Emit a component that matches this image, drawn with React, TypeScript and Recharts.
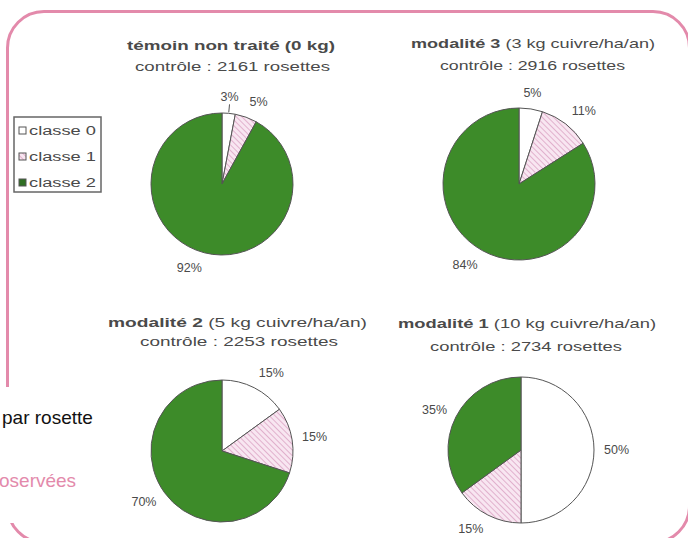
import React from 'react';
import { PieChart, Pie, Cell, Legend } from 'recharts';

// ---------- data ----------
const classNames = ['classe 0', 'classe 1', 'classe 2'];
const temoinValues = [3, 5, 92];
const modalite3Values = [5, 11, 84];
const modalite2Values = [15, 15, 70];
const modalite1Values = [50, 15, 35];
const titleBold = ['témoin non traité (0 kg)', 'modalité 3', 'modalité 2', 'modalité 1'];
const titleRest = ['', ' (3 kg cuivre/ha/an)', ' (5 kg cuivre/ha/an)', ' (10 kg cuivre/ha/an)'];
const rosettes = [2161, 2916, 2253, 2734];
const sideTexts = ['par rosette', 'oservées'];

// ---------- style / layout ----------
const W = 688;
const H = 538;
const GREEN = '#3d8b29';
const PINK = '#e38aab';
const TEXT = '#4a4a4a';
const FONT = '"Liberation Sans", Arial, sans-serif';
const fills = ['#ffffff', 'url(#hatch)', GREEN];

const pieSeries = [temoinValues, modalite3Values, modalite2Values, modalite1Values];
const pieLayout = [
  { cx: 222, cy: 184, r: 71 },
  { cx: 519, cy: 184, r: 76 },
  { cx: 222, cy: 451, r: 71 },
  { cx: 521, cy: 450, r: 73 },
];
// title boxes: [left, right, baselineTitle, leftSub, rightSub, baselineSub]
const titleLayout = [
  [127, 335, 50, 135, 330, 71],
  [411, 655, 48, 440, 625, 70],
  [108, 367, 327, 140, 338, 346],
  [398, 656, 328, 430, 622, 351],
];

const makeData = (values: number[]) => values.map((v, i) => ({ name: classNames[i], value: v }));

const RAD = Math.PI / 180;

const renderLabel = (props: any) => {
  const { cx, cy, midAngle, outerRadius, value } = props;
  const cos = Math.cos(midAngle * RAD);
  const sin = Math.sin(midAngle * RAD);
  const d = outerRadius + 10;
  const x = cx + d * cos;
  const y = cy - d * sin - sin * 6;
  const anchor = cos > 0.2 ? 'start' : cos < -0.2 ? 'end' : 'middle';
  return (
    <text
      x={x}
      y={y}
      textAnchor={anchor}
      dominantBaseline="central"
      fontFamily={FONT}
      fontSize={12.5}
      fill={TEXT}
    >
      {`${value}%`}
    </text>
  );
};

const makeLabelLine = (pieIndex: number) => (props: any) => {
  const { cx, cy, midAngle, outerRadius, index } = props;
  if (!(pieIndex === 0 && index === 0)) return <g />;
  const cos = Math.cos(midAngle * RAD);
  const sin = Math.sin(midAngle * RAD);
  const x1 = cx + (outerRadius + 1) * cos;
  const y1 = cy - (outerRadius + 1) * sin;
  const x2 = cx + (outerRadius + 9) * cos;
  const y2 = cy - (outerRadius + 9) * sin;
  return <path d={`M${x1},${y1}L${x2},${y2}`} stroke="#555" strokeWidth={1} fill="none" />;
};

const LegendBox = () => (
  <svg width={90} height={78} style={{ display: 'block' }}>
    <rect x={1} y={1} width={87} height={75} fill="#fff" stroke="#666" strokeWidth={1.5} />
    {classNames.map((c, i) => (
      <g key={c}>
        <rect
          x={6}
          y={11 + i * 26}
          width={7}
          height={7}
          fill={i === 2 ? '#2f6e22' : i === 1 ? 'url(#hatch)' : '#fff'}
          stroke="#555"
          strokeWidth={1}
        />
        <text
          x={16}
          y={19 + i * 26}
          fontFamily={FONT}
          fontSize={12.5}
          fill={TEXT}
          textLength={67}
          lengthAdjust="spacingAndGlyphs"
        >
          {c}
        </text>
      </g>
    ))}
  </svg>
);

export default function App() {
  return (
    <div
      style={{
        position: 'absolute',
        left: 0,
        top: 0,
        width: W,
        height: H,
        overflow: 'hidden',
        background: '#fff',
      }}
    >
      <svg width={0} height={0} style={{ position: 'absolute' }}>
        <defs>
          <pattern
            id="hatch"
            patternUnits="userSpaceOnUse"
            width={4}
            height={4}
            patternTransform="rotate(-45)"
          >
            <rect width={4} height={4} fill="#f8e6f1" />
            <line x1={0} y1={0} x2={0} y2={4} stroke="#dca4c4" strokeWidth={1.6} />
          </pattern>
        </defs>
      </svg>

      {/* rounded pink frame */}
      <div
        style={{
          position: 'absolute',
          left: 6,
          top: 10,
          width: 685,
          height: 534,
          border: `3px solid ${PINK}`,
          borderRadius: 38,
          boxSizing: 'border-box',
        }}
      />

      <div style={{ position: 'absolute', left: 0, top: 0 }}>
        <PieChart width={W} height={H} margin={{ top: 0, right: 0, bottom: 0, left: 0 }}>
          {pieSeries.map((vals, p) => (
            <Pie
              key={p}
              data={makeData(vals)}
              dataKey="value"
              nameKey="name"
              cx={pieLayout[p].cx}
              cy={pieLayout[p].cy}
              outerRadius={pieLayout[p].r}
              startAngle={90}
              endAngle={-270}
              stroke="#555"
              strokeWidth={1}
              isAnimationActive={false}
              label={renderLabel}
              labelLine={makeLabelLine(p)}
            >
              {vals.map((_, i) => (
                <Cell key={i} fill={fills[i]} />
              ))}
            </Pie>
          ))}
          <Legend
            content={() => <LegendBox />}
            wrapperStyle={{ position: 'absolute', left: 13, top: 116, width: 90, height: 78 }}
          />
        </PieChart>
      </div>

      {/* titles */}
      <svg
        width={W}
        height={H}
        style={{ position: 'absolute', left: 0, top: 0, pointerEvents: 'none' }}
      >
        {titleBold.map((t, i) => {
          const [l, r, by, ls, rs, bs] = titleLayout[i];
          return (
            <g key={i} fontFamily={FONT} fill={TEXT} fontSize={13.5}>
              <text x={l} y={by} textLength={r - l} lengthAdjust="spacingAndGlyphs">
                <tspan fontWeight="bold">{t}</tspan>
                {titleRest[i] ? <tspan>{titleRest[i]}</tspan> : null}
              </text>
              <text x={ls} y={bs} textLength={rs - ls} lengthAdjust="spacingAndGlyphs">
                {`contrôle : ${rosettes[i]} rosettes`}
              </text>
            </g>
          );
        })}
      </svg>

      {/* overlapping slide text on the left */}
      <div
        style={{
          position: 'absolute',
          left: 0,
          top: 387,
          width: 110,
          height: 136,
          background: '#fff',
        }}
      />
      <div
        style={{
          position: 'absolute',
          left: 2,
          top: 407,
          fontFamily: FONT,
          fontSize: 19,
          color: '#111',
          whiteSpace: 'nowrap',
          lineHeight: '22px',
        }}
      >
        {sideTexts[0]}
      </div>
      <div
        style={{
          position: 'absolute',
          left: -1,
          top: 470,
          fontFamily: FONT,
          fontSize: 19,
          color: PINK,
          whiteSpace: 'nowrap',
          lineHeight: '22px',
        }}
      >
        {sideTexts[1]}
      </div>
    </div>
  );
}
